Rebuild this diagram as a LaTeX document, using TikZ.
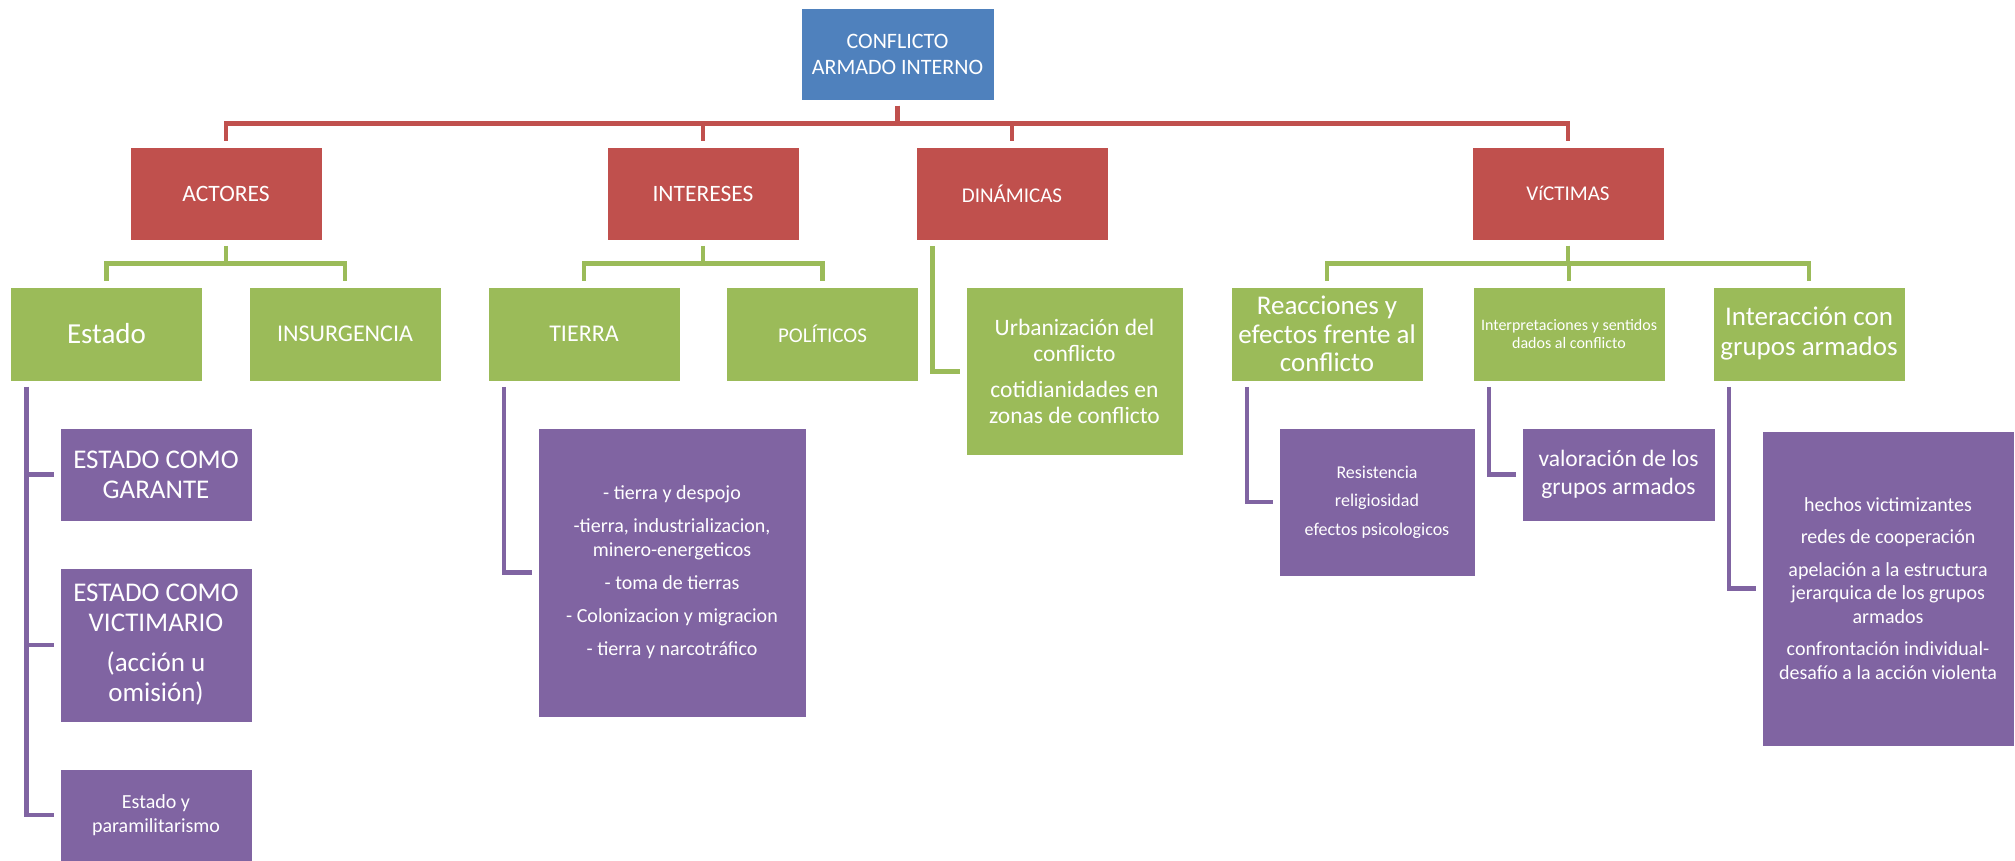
\documentclass[tikz,border=0pt]{standalone}
\usepackage{fontspec}
\setmainfont{Carlito}
\usetikzlibrary{calc}

\definecolor{azul}{HTML}{4F81BD}
\definecolor{rojo}{HTML}{C0504D}
\definecolor{verde}{HTML}{9BBB59}
\definecolor{morado}{HTML}{8064A2}

\newcommand{\fs}[2]{\fontsize{#1}{#2}\selectfont}

\begin{document}
\begin{tikzpicture}[x=1pt,y=-1pt,
    caja/.style={rectangle,draw=white,line width=0.8pt,text=white,align=center,
      inner sep=0pt,minimum width=192pt,minimum height=93pt},
    raiz/.style={caja,fill=azul},
    nivela/.style={caja,fill=rojo},
    nivelb/.style={caja,fill=verde},
    nivelc/.style={caja,fill=morado},
    linea/.style={line width=4.5pt,shorten <=5.5pt,shorten >=5.5pt}]
    \useasboundingbox (0,0) rectangle (2015,860);

    \node[raiz,minimum width=193pt,minimum height=92pt,font=\fs{22}{26}]
      (conflicto) at (897.5,54) {CONFLICTO\\ARMADO INTERNO};

    \node[nivela,font=\fs{23.5}{28}] (actores)   at (226,193.5)  {ACTORES};
    \node[nivela,font=\fs{23.5}{28}] (intereses) at (703,193.5)  {INTERESES};
    \node[nivela,font=\fs{21}{25}]   (dinamicas) at (1012,193.5) {DINÁMICAS};
    \node[nivela,font=\fs{21}{25}]   (victimas)  at (1568,193.5) {VíCTIMAS};

    \node[nivelb,minimum height=94pt,font=\fs{29}{34}] (estado) at (106.5,334) {Estado};
    \node[nivelb,minimum height=94pt,font=\fs{24}{29}] (insurgencia) at (345,334) {INSURGENCIA};
    \node[nivelb,minimum height=94pt,font=\fs{24}{29}] (tierra) at (584,334) {TIERRA};
    \node[nivelb,minimum height=94pt,font=\fs{21}{25}] (politicos) at (822.5,334) {POLÍTICOS};
    \node[nivelb,minimum width=217pt,minimum height=168pt,font=\fs{23.5}{25.5}]
      (urbanizacion) at (1074.5,371.5)
      {Urbanización del\\conflicto\\[11pt]cotidianidades en\\zonas de conflicto};
    \node[nivelb,minimum height=94pt,font=\fs{27}{28.5}] (reacciones) at (1327,334)
      {Reacciones y\\efectos frente al\\conflicto};
    \node[nivelb,minimum height=94pt,font=\fs{16}{18.5}] (interpretaciones) at (1569,334)
      {Interpretaciones y sentidos\\dados al conflicto};
    \node[nivelb,minimum height=94pt,font=\fs{27}{30}] (interaccion) at (1809,334)
      {Interacción con\\grupos armados};

    \node[nivelc,font=\fs{27}{30}] (garante) at (156,474.5) {ESTADO COMO\\GARANTE};
    \node[nivelc,minimum height=154pt,font=\fs{27}{30}] (victimario) at (156,645)
      {ESTADO COMO\\VICTIMARIO\\[10pt](acción u\\omisión)};
    \node[nivelc,minimum height=92pt,font=\fs{20}{23.5}] (paramil) at (156,815)
      {Estado y\\paramilitarismo};
    \node[nivelc,minimum width=268pt,minimum height=289pt,font=\fs{20}{24}]
      (tierras) at (672,572.5)
      {- tierra y despojo\\[9pt]-tierra, industrializacion,\\minero-energeticos\\[9pt]- toma de tierras\\[9pt]- Colonizacion y migracion\\[9pt]- tierra y narcotráfico};
    \node[nivelc,minimum width=196pt,minimum height=148pt,font=\fs{18}{28.5}]
      (efectos) at (1377,502) {Resistencia\\religiosidad\\efectos psicologicos};
    \node[nivelc,minimum width=193pt,font=\fs{23.5}{28}] (valoracion) at (1618.5,474.5)
      {valoración de los\\grupos armados};
    \node[nivelc,minimum width=252pt,minimum height=315pt,font=\fs{20}{23.5}]
      (hechos) at (1888,588.5)
      {hechos victimizantes\\[9pt]redes de cooperación\\[9pt]apelación a la estructura\\jerarquica de los grupos\\armados\\[9pt]confrontación individual-\\desafío a la acción violenta};

    \coordinate (barrarojo) at (897.5,123.5);
    \foreach \hijo in {actores,intereses,dinamicas,victimas}
      \draw[linea,color=rojo] (conflicto.south) |- (barrarojo -| \hijo) -- (\hijo.north);

    \coordinate (barraverde) at (0,263.5);
    \foreach \padre/\hijo in {actores/estado,actores/insurgencia,intereses/tierra,
        intereses/politicos,victimas/reacciones,victimas/interpretaciones,victimas/interaccion}
      \draw[linea,color=verde] (\padre.south) |- (barraverde -| \hijo) -- (\hijo.north);
    \draw[linea,color=verde] ([xshift=17pt]dinamicas.south west) |- (urbanizacion.west);

    \foreach \padre/\hijo in {estado/garante,estado/victimario,estado/paramil,tierra/tierras,
        reacciones/efectos,interpretaciones/valoracion,interaccion/hechos}
      \draw[linea,color=morado] ([xshift=16.5pt]\padre.south west) |- (\hijo.west);
  \end{tikzpicture}
\end{document}
